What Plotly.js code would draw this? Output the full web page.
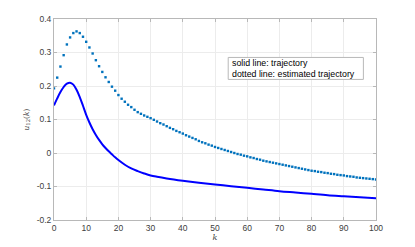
<!DOCTYPE html>
<html>
<head>
<meta charset="utf-8">
<script src="https://cdn.plot.ly/plotly-3.0.1.min.js"></script>
<style>html,body{margin:0;padding:0;background:#fff;}#chart{width:415px;height:247px;}</style>
</head>
<body>
<div id="chart"></div>
<script>
// solid line: trajectory (sampled points)
const solidK = [0,1,2,3,4,5,6,7,8,9,10,11,12,13,14,15,16,17,18,19,20,22,24,26,28,30,32,35,40,45,50,55,60,65,70,75,80,85,90,95,100];
const solidU = [0.142,0.163,0.182,0.197,0.207,0.210,0.204,0.189,0.167,0.141,0.114,0.091,0.071,0.054,0.039,0.026,0.015,0.005,-0.004,-0.013,-0.021,-0.035,-0.046,-0.054,-0.061,-0.067,-0.071,-0.076,-0.083,-0.089,-0.094,-0.099,-0.104,-0.109,-0.114,-0.118,-0.122,-0.126,-0.129,-0.132,-0.135];

// dotted line: estimated trajectory (one point per k)
const dotK = [];
for (let k = 0; k <= 100; k++) dotK.push(k);
const dotU = [0.193,0.225,0.258,0.292,0.324,0.345,0.358,0.363,0.358,0.347,
0.332,0.315,0.297,0.277,0.259,0.242,0.226,0.212,0.198,0.186,
0.173,0.162,0.153,0.144,0.137,0.129,0.122,0.117,0.112,0.108,
0.104,0.099,0.094,0.089,0.085,0.080,0.075,0.071,0.066,0.062,
0.058,0.053,0.049,0.045,0.041,0.036,0.032,0.029,0.025,0.022,
0.018,0.015,0.012,0.009,0.006,0.003,0.000,-0.003,-0.005,-0.008,
-0.010,-0.013,-0.015,-0.018,-0.020,-0.023,-0.025,-0.027,-0.029,-0.031,
-0.033,-0.035,-0.037,-0.039,-0.041,-0.043,-0.045,-0.047,-0.049,-0.051,
-0.053,-0.054,-0.056,-0.057,-0.059,-0.060,-0.062,-0.063,-0.065,-0.066,
-0.067,-0.069,-0.070,-0.071,-0.073,-0.074,-0.075,-0.076,-0.077,-0.078,-0.079];

const xTicks = [0,10,20,30,40,50,60,70,80,90,100];
const yTicks = [-0.2,-0.1,0,0.1,0.2,0.3,0.4];
const yTickText = ['-0.2','-0.1','0','0.1','0.2','0.3','0.4'];

const traces = [
  {x: solidK, y: solidU, mode: 'lines', line: {color: '#0000FF', width: 2, shape: 'spline'}, hoverinfo: 'skip'},
  {x: dotK, y: dotU, mode: 'markers', marker: {color: '#0072BD', size: 2.4, symbol: 'square'}, hoverinfo: 'skip'}
];

const axisCommon = {
  showgrid: true, gridcolor: '#ececec', gridwidth: 1,
  showline: true, linecolor: '#b8b8b8', linewidth: 1, mirror: 'ticks',
  ticks: 'inside', ticklen: 3, tickcolor: '#b8b8b8',
  zeroline: false,
  tickfont: {family: 'Liberation Sans, Arial, sans-serif', size: 8.5, color: '#404040'}
};

const boxL = 228, boxR = 363, boxT = 57, boxB = 79;
const pL = 54, pW = 321.6, pB = 219.8, pH = 201.3;

const layout = {
  width: 415, height: 247,
  margin: {l: 54, r: 39.4, t: 18.5, b: 27.2},
  paper_bgcolor: '#fff', plot_bgcolor: '#fff',
  showlegend: false,
  xaxis: Object.assign({}, axisCommon, {
    range: [0, 100], tickvals: xTicks, ticktext: xTicks.map(String),
    title: {text: '<i>k</i>', font: {family: 'DejaVu Serif, serif', size: 8, color: '#404040'}, standoff: 2}
  }),
  yaxis: Object.assign({}, axisCommon, {
    range: [-0.2, 0.4], tickvals: yTicks, ticktext: yTickText,
    title: {text: '<i>u</i><sub>12</sub>(<i>k</i>)', font: {family: 'DejaVu Serif, serif', size: 7.5, color: '#404040'}, standoff: 6}
  }),
  shapes: [{
    type: 'rect', xref: 'paper', yref: 'paper', layer: 'above',
    x0: (boxL - pL) / pW, x1: (boxR - pL) / pW,
    y0: (pB - boxB) / pH, y1: (pB - boxT) / pH,
    line: {color: '#b8b8b8', width: 1}, fillcolor: 'rgba(255,255,255,1)'
  }],
  annotations: [{
    xref: 'paper', yref: 'paper', x: (boxL + 1.5 - pL) / pW, y: (pB - (boxT + boxB) / 2) / pH,
    xanchor: 'left', yanchor: 'middle',
    text: 'solid line: trajectory<br>dotted line: estimated trajectory',
    align: 'left', showarrow: false,
    font: {family: 'Liberation Sans, Arial, sans-serif', size: 8.8, color: '#000'}
  }]
};

Plotly.newPlot('chart', traces, layout, {displayModeBar: false, staticPlot: true});
</script>
</body>
</html>
